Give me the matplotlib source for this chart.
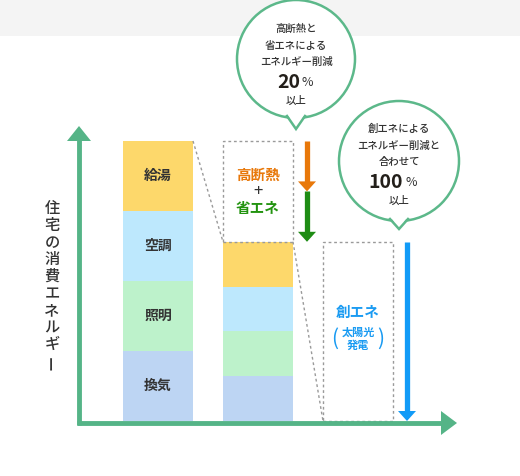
import matplotlib
matplotlib.use("Agg")
import matplotlib.pyplot as plt
from matplotlib.patches import Circle, Polygon, Rectangle

plt.rcParams['font.family'] = ['Noto Sans CJK JP', 'DejaVu Sans']

# data: household energy use (current = 100)
uses = ['給湯', '空調', '照明', '換気']
current = [25, 25, 25, 25]          # stacked top -> bottom order above
after_saving = [16, 16, 16, 16]     # after insulation + efficiency
cut_insulation = 18                 # 高断熱
cut_efficiency = 18                 # 省エネ
creation = 64                       # 創エネ (solar)
colors = ['#fdd86b', '#bde8fd', '#bdf2cb', '#bdd5f3']

axis_label = '住宅の消費エネルギー'
bubble1 = ['高断熱と', '省エネによる', 'エネルギー削減']
bubble1_pct = '20'
bubble2 = ['創エネによる', 'エネルギー削減と', '合わせて']
bubble2_pct = '100'

W, H = 520, 476
base_px, px_per_unit = 421, 2.8
fig = plt.figure(figsize=(W / 100, H / 100), dpi=100)

# data axes: x in pixels, y in energy units
ax = fig.add_axes([0, 0, 1, 1])
ax.set_xlim(0, W)
ax.set_ylim(-(H - base_px) / px_per_unit, base_px / px_per_unit)
ax.axis('off')

x1, x2, x3, bw = 158, 258, 358, 70

# bar 1: current usage
bottom = 0
for name, v, c in zip(uses[::-1], current[::-1], colors[::-1]):
    ax.bar(x1, v, bw, bottom=bottom, color=c, linewidth=0)
    ax.text(x1, bottom + v / 2, name, ha='center', va='center',
            fontsize=10, fontweight='bold', color='#333333')
    bottom += v
total = bottom

# bar 2: after savings
bottom = 0
for v, c in zip(after_saving[::-1], colors[::-1]):
    ax.bar(x2, v, bw, bottom=bottom, color=c, linewidth=0)
    bottom += v
saved_total = bottom

dash = dict(color='#9a9a9a', lw=1, linestyle=(0, (2, 2)))
ax.add_patch(Rectangle((x2 - bw / 2, saved_total), bw, total - saved_total,
                       fill=False, edgecolor='#9a9a9a', lw=1, linestyle=(0, (2, 2))))
ax.add_patch(Rectangle((x3 - bw / 2, 0), bw, creation,
                       fill=False, edgecolor='#9a9a9a', lw=1, linestyle=(0, (2, 2))))
ax.plot([x1 + bw / 2, x2 - bw / 2], [total, saved_total], **dash)
ax.plot([x2 + bw / 2, x3 - bw / 2], [saved_total, 0], **dash)

# labels inside dashed boxes
mid = (total + saved_total) / 2
ax.text(x2, mid + 6, '高断熱', ha='center', va='center', fontsize=10.5,
        fontweight='bold', color='#e8780a')
ax.text(x2, mid, '+', ha='center', va='center', fontsize=12, color='#333333')
ax.text(x2, mid - 6, '省エネ', ha='center', va='center', fontsize=10.5,
        fontweight='bold', color='#22930f')
ax.text(x3, creation / 2 + 7, '創エネ', ha='center', va='center', fontsize=10.5,
        fontweight='bold', color='#1a9bf2')
ax.text(x3, creation / 2 - 2.6, '太陽光\n発電', ha='center', va='center',
        fontsize=8, fontweight='bold', color='#1a9bf2', linespacing=1.05)
ax.text(x3 - 23, creation / 2 - 2.6, '(', ha='center', va='center', fontsize=15,
        color='#1a9bf2')
ax.text(x3 + 23, creation / 2 - 2.6, ')', ha='center', va='center', fontsize=15,
        color='#1a9bf2')


# reduction arrows: shaft line + sharp triangular head
def down_arrow(x, y0, y1, color):
    head = 10 / px_per_unit
    ax.plot([x, x], [y0, y1 + head * 0.9], color=color, lw=3.8,
            solid_capstyle='butt')
    ax.add_patch(Polygon([(x - 9, y1 + head), (x + 9, y1 + head), (x, y1)],
                         color=color, lw=0))


down_arrow(307, total, total - cut_insulation, '#e8780a')
down_arrow(307, total - cut_insulation, total - cut_insulation - cut_efficiency, '#1e8c14')
down_arrow(407, creation, 0, '#129bf7')

# overlay in pixel coordinates
ov = fig.add_axes([0, 0, 1, 1])
ov.set_xlim(0, W)
ov.set_ylim(H, 0)
ov.axis('off')
ov.patch.set_alpha(0)

ov.add_patch(Rectangle((0, 0), W, 36, color='#f4f4f4', lw=0, zorder=0))

green = '#55b487'
ov.plot([79, 79], [425, 139], color=green, lw=3.5, solid_capstyle='butt')
ov.add_patch(Polygon([(67, 141), (91, 141), (79, 126)], color=green, lw=0))
ov.plot([77, 443], [423, 423], color=green, lw=3.5, solid_capstyle='butt')
ov.add_patch(Polygon([(441, 411), (441, 435), (457, 423)], color=green, lw=0))

for i, ch in enumerate(axis_label):
    ov.text(52, 208 + i * 17.1, ch, ha='center', va='center', fontsize=11,
            fontweight='medium', color='#333333',
            rotation=90 if ch == 'ー' else 0)


def bubble(cx, cy, r, tip):
    ov.add_patch(Circle((cx, cy), r, facecolor='white', edgecolor='#5cb88a',
                        lw=1.8, zorder=3))
    by = cy + r - 2
    ov.add_patch(Polygon([(cx - 10, by - 4), (cx + 10, by - 4), (cx, cy + tip)],
                         facecolor='white', edgecolor='none', zorder=4))
    ov.plot([cx - 9, cx, cx + 9], [by, cy + tip, by], color='#5cb88a', lw=1.8,
            zorder=5, solid_joinstyle='miter')


def bubble_text(cx, top, lines, pct):
    for i, s in enumerate(lines):
        ov.text(cx, top + i * 16.5, s, ha='center', va='center', fontsize=7.5,
                fontweight='medium', color='#333333', zorder=6)
    y = top + len(lines) * 16.5 + 4
    ov.text(cx + 4, y, pct, ha='right', va='center', fontsize=14,
            fontweight='bold', color='#231f1a', zorder=6)
    ov.text(cx + 6, y, '%', ha='left', va='center', fontsize=9,
            color='#333333', zorder=6)
    ov.text(cx, y + 18, '以上', ha='center', va='center', fontsize=7.5,
            fontweight='medium', color='#333333', zorder=6)


bubble(296, 59, 59, 70)
bubble_text(296, 29, bubble1, bubble1_pct)
bubble(399, 161, 60, 68)
bubble_text(399, 129, bubble2, bubble2_pct)

fig.savefig('out.png', dpi=100, facecolor='white')
